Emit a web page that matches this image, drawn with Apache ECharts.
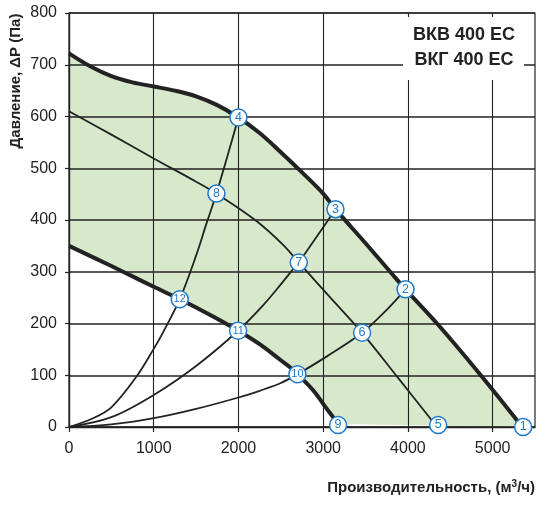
<!DOCTYPE html>
<html lang="ru">
<head>
    <meta charset="UTF-8">
    <title>ВКВ 400 ЕС</title>
    <script src="https://cdn.jsdelivr.net/npm/echarts@6/dist/echarts.min.js"></script>
    <style>
        body { margin: 0; background: #fff; }
        #chart { width: 546px; height: 507px; }
    </style>
</head>
<body>
    <div id="chart"></div>
    <script type="text/javascript">
        // кривые, [расход м3/ч, давление Па]
        var maxCurve = [[0,722],[250,697],[500,678],[750,666],[1000,658],[1250,650],[1500,639],[1750,622],[2000,598],
            [2250,568],[2500,531],[2750,492],[3000,451],[3145,421],[3500,355],[3806,297],[3972,266],[4360,197],[4860,100],[5350,0]];
        var minCurve = [[0,350],[500,311],[750,291],[1000,271],[1307,247],[1500,231],[1750,209],[1996,186],[2250,160],
            [2500,129],[2605,116],[2696,102],[2881,71],[3039,36],[3125,17],[3160,6]];
        var midCurve = [[0,610],[500,565],[1000,519],[1500,474],[1740,451],[2212,398],[2527,352],[2712,318],[3085,250],
            [3459,182],[3903,91],[4330,3]];
        var netA = [[0,0],[284,17],[500,38],[795,97],[1000,151],[1110,183],[1307,247],[1504,333],[1622,393],[1740,451],[2000,598]];
        var netB = [[0,0],[500,19],[1000,62],[1500,118],[1996,186],[2290,235],[2507,277],[2645,305],[2712,318],[2921,367],[3145,421]];
        var netC = [[0,0],[500,5],[1000,17],[1500,35],[2000,57],[2250,70],[2500,85],[2696,102],[3039,136],[3459,182],[3747,226],[3972,266]];

        // номера точек
        var pointIds = ['1','2','3','4','5','6','7','8','9','10','11','12'];
        var pointFlow = [5360,3972,3145,2000,4357,3459,2712,1740,3176,2696,1996,1307];
        var pointPressure = [0,266,421,598,4,182,318,451,4,102,186,247];

        var xTicks = [0,1000,2000,3000,4000,5000];

        var font = 'Liberation Sans, Arial, sans-serif';
        var ink = '#222';
        var blue = '#1f7acb';

        var points = pointIds.map(function (id, i) {
            return {
                value: [pointFlow[i], pointPressure[i]],
                label: { formatter: id, fontSize: id.length > 1 ? 11 : 12.5 }
            };
        });

        function curve(data, w) {
            return {
                type: 'line', data: data, smooth: 0.35,
                showSymbol: false, silent: true, z: 5,
                lineStyle: { color: ink, width: w }
            };
        }
        function plain(v) { return String(v); }

        var myChart = echarts.init(document.getElementById('chart'));
        var option = {
            animation: false,
            textStyle: { fontFamily: font },
            grid: { left: 69, right: 11, top: 13, bottom: 80, show: true, borderColor: ink, borderWidth: 1.2 },
            xAxis: {
                type: 'value', min: 0, max: 5500, interval: 500, z: 3,
                axisLine: { lineStyle: { color: ink, width: 1.3 } },
                axisTick: { show: true, customValues: xTicks, length: 5, lineStyle: { color: ink, width: 1.2 } },
                axisLabel: { customValues: xTicks, formatter: plain, color: ink, fontSize: 16, margin: 14 },
                splitLine: { show: true, lineStyle: { color: ink, width: 1.1 } }
            },
            yAxis: {
                type: 'value', min: 0, max: 800, interval: 100, z: 3,
                axisLine: { show: true, lineStyle: { color: ink, width: 1.3 } },
                axisTick: { show: true, length: 4, lineStyle: { color: ink, width: 1.2 } },
                axisLabel: { formatter: plain, color: ink, fontSize: 16, margin: 12 },
                splitLine: { show: true, lineStyle: { color: ink, width: 1.5 } }
            },
            graphic: [
                { type: 'rect', z: 10, shape: { x: 403, y: 17, width: 121, height: 63 }, style: { fill: '#fff' } },
                { type: 'text', z: 11, x: 464, y: 35, style: { text: 'ВКВ 400 ЕС', fill: ink, fontFamily: font,
                    fontWeight: 'bold', fontSize: 18, textAlign: 'center', textVerticalAlign: 'middle' } },
                { type: 'text', z: 11, x: 464, y: 60, style: { text: 'ВКГ 400 ЕС', fill: ink, fontFamily: font,
                    fontWeight: 'bold', fontSize: 18, textAlign: 'center', textVerticalAlign: 'middle' } },
                { type: 'text', z: 11, x: 16, y: 81, rotation: Math.PI / 2, style: { text: 'Давление, ΔР (Па)', fill: ink,
                    fontFamily: font, fontWeight: 'bold', fontSize: 15, textAlign: 'center', textVerticalAlign: 'middle' } },
                { type: 'text', z: 11, x: 535, y: 488, style: { text: 'Производительность, (м{sup|3}/ч)', fill: ink,
                    fontFamily: font, fontWeight: 'bold', fontSize: 15, textAlign: 'right', textVerticalAlign: 'middle',
                    rich: { sup: { fontSize: 10, fontWeight: 'bold', fontFamily: font, fill: ink, verticalAlign: 'top', lineHeight: 18 } } } }
            ],
            series: [
                {
                    type: 'custom', z: 1, silent: true, clip: true,
                    data: [[0, 0]],
                    renderItem: function (params, api) {
                        var pts = maxCurve.map(function (p) { return api.coord(p); });
                        minCurve.slice().reverse().forEach(function (p) { pts.push(api.coord(p)); });
                        return { type: 'polygon', shape: { points: pts }, style: { fill: '#d8e8cb' } };
                    }
                },
                curve(midCurve, 1.8),
                curve(netA, 1.8),
                curve(netB, 1.8),
                curve(netC, 1.8),
                curve(maxCurve, 4),
                curve(minCurve, 4),
                {
                    type: 'scatter', z: 6, clip: false, silent: true,
                    symbol: 'circle', symbolSize: 17,
                    itemStyle: { color: '#fff', borderColor: blue, borderWidth: 1.5, opacity: 1 },
                    label: { show: true, position: 'inside', color: blue, fontFamily: font },
                    data: points
                }
            ]
        };
        myChart.setOption(option);
    </script>
</body>
</html>
